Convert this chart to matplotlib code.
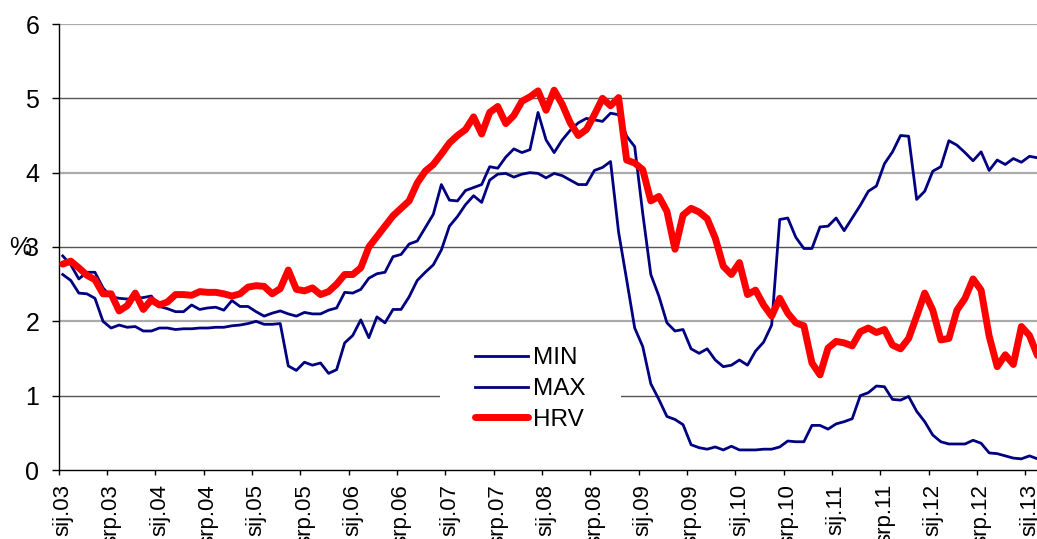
import numpy as np
import matplotlib
matplotlib.use("Agg")
import matplotlib.pyplot as plt
from matplotlib.patches import Rectangle

plt.rcParams['font.family'] = ['Liberation Sans', 'DejaVu Sans']

# mjesečni podaci, sij.2003 - velj.2013 (%)
MIN = [
    2.63, 2.55, 2.38, 2.37, 2.31, 2.00, 1.91, 1.95, 1.92, 1.93, 1.87, 1.87,
    1.91, 1.91, 1.89, 1.90, 1.90, 1.91, 1.91, 1.92, 1.92, 1.94, 1.95, 1.97,
    2.00, 1.96, 1.96, 1.97, 1.40, 1.34, 1.45, 1.41, 1.44, 1.30, 1.35, 1.71,
    1.81, 2.02, 1.78, 2.06, 1.98, 2.16, 2.16, 2.33, 2.55, 2.66, 2.76, 2.96,
    3.28, 3.41, 3.57, 3.69, 3.60, 3.90, 3.98, 3.99, 3.94, 3.98, 4.00, 3.99,
    3.93, 3.99, 3.96, 3.90, 3.84, 3.84, 4.03, 4.07, 4.15, 3.20, 2.56, 1.91,
    1.66, 1.16, 0.95, 0.72, 0.68, 0.61, 0.34, 0.30, 0.28, 0.31, 0.27, 0.32,
    0.27, 0.27, 0.27, 0.28, 0.28, 0.31, 0.39, 0.38, 0.38, 0.60, 0.60, 0.55,
    0.62, 0.65, 0.69, 1.00, 1.04, 1.13, 1.12, 0.95, 0.94, 0.99, 0.79, 0.65,
    0.47, 0.38, 0.35, 0.35, 0.35, 0.40, 0.36, 0.23, 0.22, 0.19, 0.16, 0.15,
    0.19, 0.15,
]
MAX = [
    2.88, 2.76, 2.57, 2.66, 2.66, 2.45, 2.33, 2.31, 2.30, 2.31, 2.32, 2.34,
    2.20, 2.17, 2.13, 2.13, 2.22, 2.16, 2.18, 2.19, 2.15, 2.28, 2.20, 2.20,
    2.13, 2.07, 2.11, 2.14, 2.10, 2.07, 2.12, 2.10, 2.10, 2.15, 2.18, 2.39,
    2.38, 2.43, 2.58, 2.64, 2.66, 2.87, 2.90, 3.04, 3.08, 3.26, 3.44, 3.84,
    3.63, 3.62, 3.76, 3.80, 3.84, 4.08, 4.06, 4.21, 4.32, 4.27, 4.31, 4.81,
    4.44, 4.27, 4.44, 4.57, 4.67, 4.73, 4.71, 4.69, 4.80, 4.78, 4.49, 4.35,
    3.45, 2.63, 2.34, 1.98, 1.87, 1.89, 1.63, 1.57, 1.63, 1.48, 1.39, 1.41,
    1.48, 1.41, 1.60, 1.72, 1.95, 3.37, 3.39, 3.13, 2.98, 2.98, 3.27, 3.28,
    3.39, 3.22, 3.39, 3.56, 3.75, 3.82, 4.12, 4.28, 4.50, 4.49, 3.64, 3.75,
    4.02, 4.08, 4.43, 4.37, 4.27, 4.16, 4.28, 4.03, 4.17, 4.11, 4.19, 4.14,
    4.22, 4.20,
]
HRV = [
    2.77, 2.81, 2.72, 2.62, 2.56, 2.37, 2.37, 2.14, 2.21, 2.38, 2.16, 2.29,
    2.22, 2.26, 2.36, 2.36, 2.35, 2.40, 2.39, 2.39, 2.37, 2.34, 2.37, 2.46,
    2.48, 2.47, 2.37, 2.44, 2.69, 2.43, 2.41, 2.45, 2.36, 2.40, 2.50, 2.63,
    2.63, 2.72, 3.00, 3.14, 3.28, 3.42, 3.52, 3.62, 3.86, 4.02, 4.11, 4.25,
    4.40, 4.50, 4.58, 4.75, 4.52, 4.81, 4.89, 4.66, 4.77, 4.96, 5.02, 5.10,
    4.84, 5.11, 4.92, 4.67, 4.50, 4.58, 4.78, 5.00, 4.90, 5.01, 4.17, 4.13,
    4.04, 3.62, 3.68, 3.48, 2.97, 3.43, 3.52, 3.47, 3.38, 3.12, 2.74, 2.63,
    2.79, 2.36, 2.42, 2.22, 2.07, 2.31, 2.11, 1.98, 1.94, 1.44, 1.28, 1.64,
    1.73, 1.71, 1.67, 1.86, 1.91, 1.85, 1.89, 1.68, 1.63, 1.77, 2.07, 2.38,
    2.15, 1.75, 1.77, 2.15, 2.31, 2.57, 2.42, 1.80, 1.39, 1.55, 1.42, 1.93,
    1.81, 1.54,
]
tick_labels = [
    'sij.03', 'srp.03', 'sij.04', 'srp.04', 'sij.05', 'srp.05', 'sij.06',
    'srp.06', 'sij.07', 'srp.07', 'sij.08', 'srp.08', 'sij.09', 'srp.09',
    'sij.10', 'srp.10', 'sij.11', 'srp.11', 'sij.12', 'srp.12', 'sij.13',
]

W, H = 1037, 539
n = len(HRV)
x = np.arange(n) + 0.5          # točke u sredini kategorije
n_slots = 122                    # širina osi u mjesecima

fig = plt.figure(figsize=(W / 100, H / 100), dpi=100)
ax = fig.add_axes([58.7 / W, 69 / H, n_slots * 8.056 / W, 446 / H])

# mreža: neparne linije tamnije, parne svjetlije
for yv in range(1, 7):
    if yv % 2:
        ax.axhline(yv, color='#555555', lw=1.0, zorder=0)
    else:
        ax.axhline(yv, color='#aaaaaa', lw=1.6, zorder=0)

ax.plot(x, MIN, color='#000080', lw=2.0, label='MIN', zorder=2)
ax.plot(x, MAX, color='#000080', lw=2.0, label='MAX', zorder=2)
ax.plot(x, HRV, color='#ff0000', lw=5.0, label='HRV', zorder=3,
        solid_capstyle='round', solid_joinstyle='round')

ax.set_xlim(0, n_slots)
ax.set_ylim(0, 6)

for side in ['top', 'right']:
    ax.spines[side].set_visible(False)
for side in ['left', 'bottom']:
    ax.spines[side].set_color('black')
    ax.spines[side].set_linewidth(1.0)

ax.set_yticks(range(7))
ax.tick_params(axis='y', labelsize=18, length=5, width=1, pad=9)

# oznake ispod sredine kategorije, crtice na granicama
major = np.arange(0, n_slots, 6)
ax.set_xticks(major)
ax.set_xticklabels([])
ax.set_xticks(major[:len(tick_labels)] + 0.5, minor=True)
ax.set_xticklabels(tick_labels, minor=True, rotation=90, fontsize=16)
ax.tick_params(axis='x', which='major', length=3.6, width=1, direction='out')
ax.tick_params(axis='x', which='minor', length=0, pad=10)

fig.text(20 / W, 1 - 248 / H, '%', ha='center', va='center', fontsize=18)

# bijela podloga legende (prekida mrežu)
ax.add_patch(Rectangle((440 / W, 1 - 440 / H), 181 / W, 100 / H,
                       transform=fig.transFigure, facecolor='white',
                       edgecolor='none', zorder=1))

leg = ax.legend(loc='center', bbox_to_anchor=(530 / W, 1 - 389 / H),
                bbox_transform=fig.transFigure, fontsize=17.5, frameon=False,
                handlelength=2.2, handletextpad=0.2, labelspacing=0.35,
                borderpad=0.5)

fig.savefig('out.png', dpi=100)
